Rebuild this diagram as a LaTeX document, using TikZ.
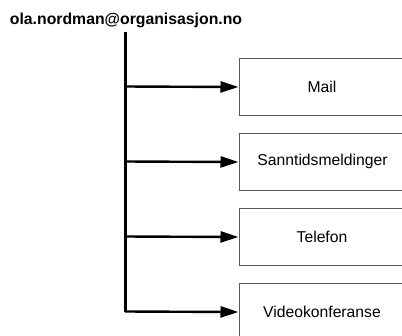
\documentclass[tikz,border=0pt]{standalone}
\usepackage{fontspec}
\setmainfont{Liberation Sans}
\usetikzlibrary{arrows.meta}
\begin{document}
\begin{tikzpicture}[x=1bp,y=-1bp,
  channel/.style={draw=black!65, line width=1bp, fill=white, minimum height=57bp,
    minimum width=200bp, anchor=north west, inner sep=0pt},
  label/.style={font=\fontsize{15.7bp}{18bp}\selectfont},
  trunk/.style={line width=3bp},
  branch/.style={line width=2.4bp, -{Triangle[length=18bp,width=11bp]}}]
\useasboundingbox (0,0) rectangle (402,336);
\begin{scope}
\clip (0,0) rectangle (402,336);
% address heading and trunk line
\node[font=\bfseries\fontsize{15.8bp}{18bp}\selectfont, anchor=base] (addr) at (126,24) {ola.nordman@organisasjon.no};
\coordinate (top) at (125,32);
\coordinate (bot) at (125,311.5);
% channel boxes (they run off the right edge)
\node[channel] (mail)  at (238.5,58)  {};
\node[channel] (chat)  at (238.5,133) {};
\node[channel] (phone) at (238.5,208) {};
\node[channel] (video) at (238.5,283) {};
\node[label] at (322,86.5)  {Mail};
\node[label] at (322.5,161.5) {Sanntidsmeldinger};
\node[label] at (322,236.5) {Telefon};
\node[label] at (322,311.5) {Videokonferanse};
\draw[trunk] (top) -- (bot);
\foreach \b/\y in {mail/86.5, chat/161.5, phone/236.5, video/311.5}
  \draw[branch] (125,\y) -- (\b.west);
\end{scope}
\end{tikzpicture}
\end{document}
